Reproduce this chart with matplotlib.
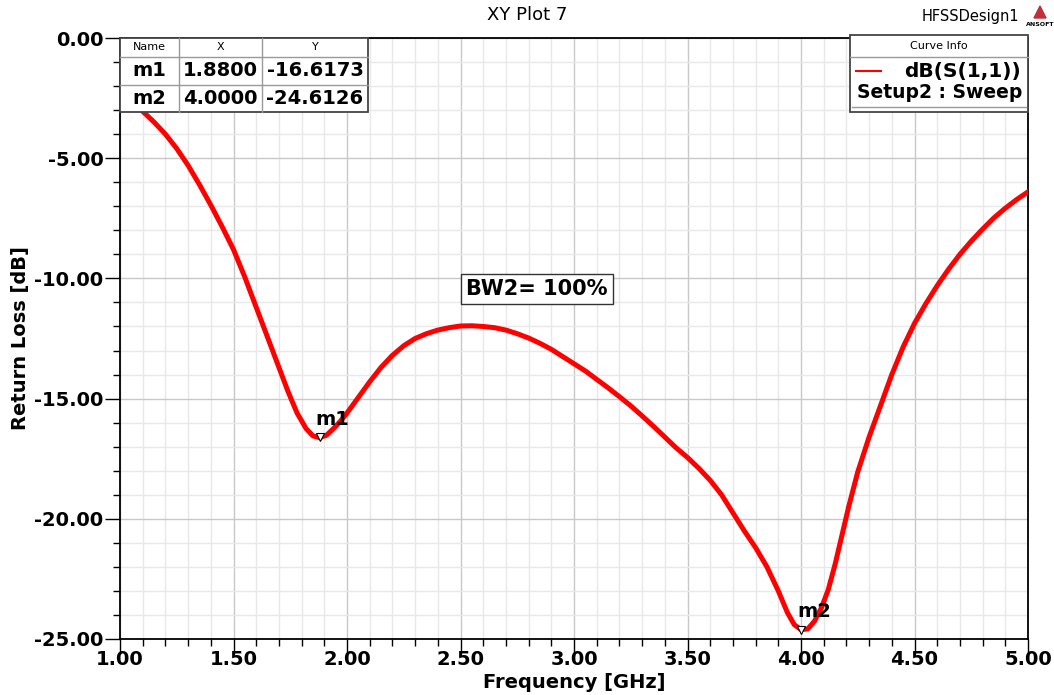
import matplotlib
matplotlib.use('Agg')
import matplotlib.pyplot as plt
from matplotlib.patches import Rectangle, Polygon
from matplotlib.ticker import MultipleLocator, FormatStrFormatter

# frequency sweep (GHz) and return loss (dB)
freq = [1.00, 1.05, 1.10, 1.15, 1.20, 1.25, 1.30, 1.35, 1.40, 1.45,
        1.50, 1.55, 1.60, 1.65, 1.70, 1.74, 1.78, 1.82, 1.85, 1.88,
        1.91, 1.94, 1.97, 2.00, 2.05, 2.10, 2.15, 2.20, 2.25, 2.30,
        2.35, 2.40, 2.45, 2.50, 2.55, 2.60, 2.65, 2.70, 2.75, 2.80,
        2.85, 2.90, 2.95, 3.00, 3.05, 3.10, 3.15, 3.20, 3.25, 3.30,
        3.35, 3.40, 3.45, 3.50, 3.55, 3.60, 3.65, 3.70, 3.75, 3.80,
        3.85, 3.90, 3.94, 3.97, 4.00, 4.03, 4.06, 4.09, 4.12, 4.15,
        4.18, 4.21, 4.25, 4.30, 4.35, 4.40, 4.45, 4.50, 4.55, 4.60,
        4.65, 4.70, 4.75, 4.80, 4.85, 4.90, 4.95, 5.00]
s11_db = [-2.10, -2.55, -3.05, -3.50, -4.00, -4.60, -5.30, -6.10, -6.95, -7.85,
          -8.80, -9.95, -11.20, -12.45, -13.70, -14.70, -15.60, -16.25, -16.55, -16.63,
          -16.52, -16.25, -15.95, -15.60, -14.95, -14.30, -13.70, -13.20, -12.80, -12.50,
          -12.30, -12.15, -12.05, -11.98, -11.97, -12.00, -12.05, -12.15, -12.30, -12.48,
          -12.70, -12.95, -13.25, -13.55, -13.85, -14.20, -14.55, -14.92, -15.30, -15.72,
          -16.15, -16.60, -17.05, -17.45, -17.90, -18.40, -19.00, -19.75, -20.50, -21.20,
          -22.00, -23.00, -23.90, -24.40, -24.61, -24.58, -24.25, -23.70, -22.95, -21.90,
          -20.70, -19.50, -18.05, -16.60, -15.30, -14.00, -12.85, -11.87, -11.05, -10.30,
          -9.62, -9.00, -8.45, -7.95, -7.48, -7.08, -6.72, -6.40]

marker_names = ['m1', 'm2']
marker_x = [1.88, 4.00]
marker_y = [-16.6173, -24.6126]

fig = plt.figure(figsize=(10.54, 6.95), dpi=100)
ax = fig.add_axes([120/1054, 1-639/695, 908/1054, 601/695])

ax.plot(freq, s11_db, color='#ff0000', lw=3.6, zorder=3, solid_joinstyle='round')

ax.set_xlim(1.0, 5.0)
ax.set_ylim(-25.0, 0.0)
ax.xaxis.set_major_locator(MultipleLocator(0.5))
ax.xaxis.set_minor_locator(MultipleLocator(0.1))
ax.yaxis.set_major_locator(MultipleLocator(5))
ax.yaxis.set_minor_locator(MultipleLocator(1))
ax.xaxis.set_major_formatter(FormatStrFormatter('%.2f'))
ax.yaxis.set_major_formatter(FormatStrFormatter('%.2f'))
ax.grid(which='major', color='#c8c8c8', lw=1.0)
ax.grid(which='minor', color='#e8e8e8', lw=1.0)
ax.set_axisbelow(True)
ax.tick_params(which='major', length=11, width=1, labelsize=14, pad=1)
ax.tick_params(axis='x', which='major', pad=-3)
ax.tick_params(which='minor', length=5, width=1)
for lab in ax.get_xticklabels() + ax.get_yticklabels():
    lab.set_fontweight('bold')
for sp in ax.spines.values():
    sp.set_linewidth(1.3)

ax.set_xlabel('Frequency [GHz]', fontsize=14, fontweight='bold', labelpad=2.5)
ax.set_ylabel('Return Loss [dB]', fontsize=14, fontweight='bold', labelpad=3)

fig.text(527/1054, 1-15/695, 'XY Plot 7', ha='center', va='center', fontsize=13)
fig.text(970/1054, 1-17/695, 'HFSSDesign1', ha='center', va='center', fontsize=10.5)
# small ansoft logo
fig.patches.append(Polygon([[1034/1054, 1-18/695], [1046/1054, 1-18/695], [1040/1054, 1-6/695]],
                           closed=True, transform=fig.transFigure, color='#c0303a'))
fig.text(1040/1054, 1-24/695, 'ANSOFT', ha='center', va='center', fontsize=4.5, fontweight='bold')

# markers
for name, mx, my in zip(marker_names, marker_x, marker_y):
    ax.plot([mx], [my], marker='v', ms=6, mfc='white', mec='black', mew=0.8, zorder=5)
    ax.text(mx - 0.018, my + 0.35, name, fontsize=14, fontweight='bold', ha='left', va='bottom', zorder=6)

# BW annotation
ax.text(2.837, -10.44, 'BW2= 100%', fontsize=15, fontweight='bold', ha='center', va='center',
        zorder=6, bbox=dict(boxstyle='square,pad=0.25', fc='white', ec='#333333', lw=1))

# marker table, in pixel-like axes coordinates
def px(x, y):
    return (x - 120) / 908, (639 - y) / 601

col_edges = [120, 179, 262, 368]
row_edges = [38, 57, 85, 112]
x0, y0 = px(col_edges[0], row_edges[-1])
x1, y1 = px(col_edges[-1], row_edges[0])
ax.add_patch(Rectangle((x0, y0), x1 - x0, y1 - y0, transform=ax.transAxes, fc='white',
                       ec='#444444', lw=1.3, zorder=7, clip_on=False))
for cx in col_edges[1:-1]:
    a, b = px(cx, row_edges[0])
    c, d = px(cx, row_edges[-1])
    ax.plot([a, c], [b, d], transform=ax.transAxes, color='#999999', lw=1, zorder=8, clip_on=False)
for ry in row_edges[1:-1]:
    a, b = px(col_edges[0], ry)
    c, d = px(col_edges[-1], ry)
    ax.plot([a, c], [b, d], transform=ax.transAxes, color='#999999', lw=1, zorder=8, clip_on=False)
header = ['Name', 'X', 'Y']
rows = [header] + [[n, '%.4f' % mx, '%.4f' % my] for n, mx, my in zip(marker_names, marker_x, marker_y)]
for r, row in enumerate(rows):
    for c, val in enumerate(row):
        tx, ty = px((col_edges[c] + col_edges[c + 1]) / 2, (row_edges[r] + row_edges[r + 1]) / 2)
        if r == 0:
            ax.text(tx, ty, val, transform=ax.transAxes, ha='center', va='center', fontsize=8, zorder=9)
        else:
            ax.text(tx, ty, val, transform=ax.transAxes, ha='center', va='center', fontsize=14,
                    fontweight='bold', zorder=9)

# curve info legend box
lx0, ly0 = px(850, 112)
lx1, ly1 = px(1028, 35)
ax.add_patch(Rectangle((lx0, ly0), lx1 - lx0, ly1 - ly0, transform=ax.transAxes, fc='white',
                       ec='#444444', lw=1.3, zorder=7, clip_on=False))
a, b = px(850, 57)
c, d = px(1028, 57)
ax.plot([a, c], [b, d], transform=ax.transAxes, color='#999999', lw=1, zorder=8, clip_on=False)
a, b = px(852, 107)
c, d = px(1026, 107)
ax.plot([a, c], [b, d], transform=ax.transAxes, color='#999999', lw=1, zorder=8, clip_on=False)
tx, ty = px(939, 46)
ax.text(tx, ty, 'Curve Info', transform=ax.transAxes, ha='center', va='center', fontsize=8, zorder=9)
a, b = px(856, 71)
c, d = px(881, 71)
ax.plot([a, c], [b, d], transform=ax.transAxes, color='#ff0000', lw=1.5, zorder=9, clip_on=False)
tx, ty = px(1021, 72)
ax.text(tx, ty, 'dB(S(1,1))', transform=ax.transAxes, ha='right', va='center', fontsize=14.5,
        fontweight='bold', zorder=9)
tx, ty = px(1022, 93)
ax.text(tx, ty, 'Setup2 : Sweep', transform=ax.transAxes, ha='right', va='center', fontsize=13.5,
        fontweight='bold', zorder=9)

fig.savefig('out.png', dpi=100)
